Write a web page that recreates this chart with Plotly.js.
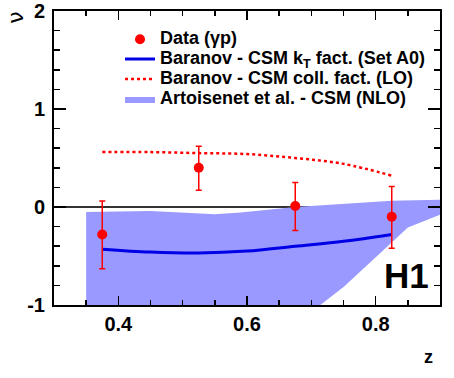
<!DOCTYPE html>
<html>
<head>
<meta charset="utf-8">
<script src="https://cdn.plot.ly/plotly-3.0.1.min.js"></script>
<style>html,body{margin:0;padding:0;background:#fff;}#chart{width:454px;height:378px;}</style>
</head>
<body>
<div id="chart"></div>
<script>
// Data (gamma p)
const dataZ = [0.375, 0.525, 0.675, 0.825];
const dataNu = [-0.28, 0.40, 0.01, -0.10];
const dataErrUp = [0.34, 0.22, 0.24, 0.31];
const dataErrDown = [0.35, 0.23, 0.25, 0.32];

// Baranov - CSM kT fact. (Set A0)
const kTZ = [0.375, 0.45, 0.525, 0.6, 0.675, 0.75, 0.825];
const kTNu = [-0.43, -0.46, -0.47, -0.45, -0.40, -0.35, -0.28];

// Baranov - CSM coll. fact. (LO)
const collZ = [0.375, 0.45, 0.525, 0.6, 0.675, 0.75, 0.825];
const collNu = [0.56, 0.56, 0.55, 0.54, 0.50, 0.44, 0.32];

// Artoisenet et al. - CSM (NLO) band: upper edge, lower edge
const bandUpZ = [0.35, 0.45, 0.55, 0.59, 0.675, 0.75, 0.825, 0.9];
const bandUpNu = [-0.05, -0.04, -0.075, -0.055, 0.0, 0.035, 0.065, 0.075];
const bandLowZ = [0.35, 0.714, 0.751, 0.85, 0.9];
const bandLowNu = [-1.0, -1.0, -0.81, -0.21, -0.08];

// Tick labels
const xTickVals = [0.4, 0.6, 0.8];
const xTickText = ['0.4', '0.6', '0.8'];
const yTickVals = [-1, 0, 1, 2];
const yTickText = ['-1', '0', '1', '2'];

const bandX = bandUpZ.concat(bandLowZ.slice().reverse());
const bandY = bandUpNu.concat(bandLowNu.slice().reverse());

const FONT = 'Liberation Sans, Arial, Helvetica, sans-serif';
const lg = s => '<span style="font-size:18px"><b>' + s + '</b></span>';
const b = s => '<b>' + s + '</b>';

const traces = [
  {
    x: bandX, y: bandY, type: 'scatter', mode: 'lines', fill: 'toself',
    fillcolor: '#9999ff', line: {width: 0, color: '#9999ff'},
    name: lg('Artoisenet et al. - CSM (NLO)'), legendrank: 4, hoverinfo: 'skip'
  },
  {
    x: kTZ, y: kTNu, type: 'scatter', mode: 'lines', line: {color: '#0000e6', width: 3, shape: 'spline'},
    name: lg('Baranov - CSM k<sub>T</sub> fact. (Set A0)'), legendrank: 2
  },
  {
    x: collZ, y: collNu, type: 'scatter', mode: 'lines', line: {color: '#ff0000', width: 2.5, dash: 'dot', shape: 'spline'},
    name: lg('Baranov - CSM coll. fact. (LO)'), legendrank: 3
  },
  {
    x: dataZ, y: dataNu, type: 'scatter', mode: 'markers',
    marker: {color: '#ff0000', size: 10},
    error_y: {type: 'data', symmetric: false, array: dataErrUp, arrayminus: dataErrDown, color: '#ff0000', thickness: 1.5, width: 3},
    name: lg('Data (γp)'), legendrank: 1
  }
];

const layout = {
  width: 454, height: 378,
  margin: {l: 54, r: 14, t: 11, b: 73},
  paper_bgcolor: '#ffffff', plot_bgcolor: '#ffffff',
  font: {family: FONT, color: '#000000', size: 18},
  showlegend: true,
  legend: {
    x: 0.171, y: 0.955, xanchor: 'left', yanchor: 'top',
    bgcolor: 'rgba(0,0,0,0)', borderwidth: 0,
    font: {family: FONT, size: 13, color: '#000'},
    tracegroupgap: 0
  },
  xaxis: {
    range: [0.3, 0.9], showgrid: false, zeroline: false,
    showline: true, linecolor: '#000', linewidth: 2, mirror: 'ticks',
    ticks: 'inside', ticklen: 9, tickwidth: 1.5, tickcolor: '#000',
    tickmode: 'array', tickvals: xTickVals, ticktext: xTickText.map(b),
    tickfont: {family: FONT, size: 20},
    minor: {tickmode: 'linear', tick0: 0, dtick: 0.05, ticks: 'inside', ticklen: 5, tickwidth: 1.5, tickcolor: '#000', showgrid: false}
  },
  yaxis: {
    range: [-1, 2], showgrid: false,
    zeroline: true, zerolinecolor: '#333333', zerolinewidth: 2,
    showline: true, linecolor: '#000', linewidth: 2, mirror: 'ticks',
    ticks: 'inside', ticklen: 12, tickwidth: 1.5, tickcolor: '#000',
    tickmode: 'array', tickvals: yTickVals, ticktext: yTickText.map(b),
    tickfont: {family: FONT, size: 20}, ticklabelstandoff: 3,
    minor: {tickmode: 'linear', tick0: 0, dtick: 0.2, ticks: 'inside', ticklen: 6, tickwidth: 1.5, tickcolor: '#000', showgrid: false}
  },
  annotations: [
    {text: 'ν', xref: 'paper', yref: 'paper', x: -0.10, y: 0.978, showarrow: false, textangle: -90,
     font: {family: 'DejaVu Sans, ' + FONT, size: 22}, xanchor: 'center', yanchor: 'middle'},
    {text: b('z'), xref: 'paper', yref: 'paper', x: 0.9715, y: -0.177, showarrow: false,
     font: {family: FONT, size: 18}, xanchor: 'center', yanchor: 'middle'},
    {text: b('H1'), xref: 'paper', yref: 'paper', x: 0.913, y: 0.102, showarrow: false,
     font: {family: FONT, size: 35}, xanchor: 'center', yanchor: 'middle'}
  ]
};

Plotly.newPlot('chart', traces, layout, {displayModeBar: false, staticPlot: true});
</script>
</body>
</html>
